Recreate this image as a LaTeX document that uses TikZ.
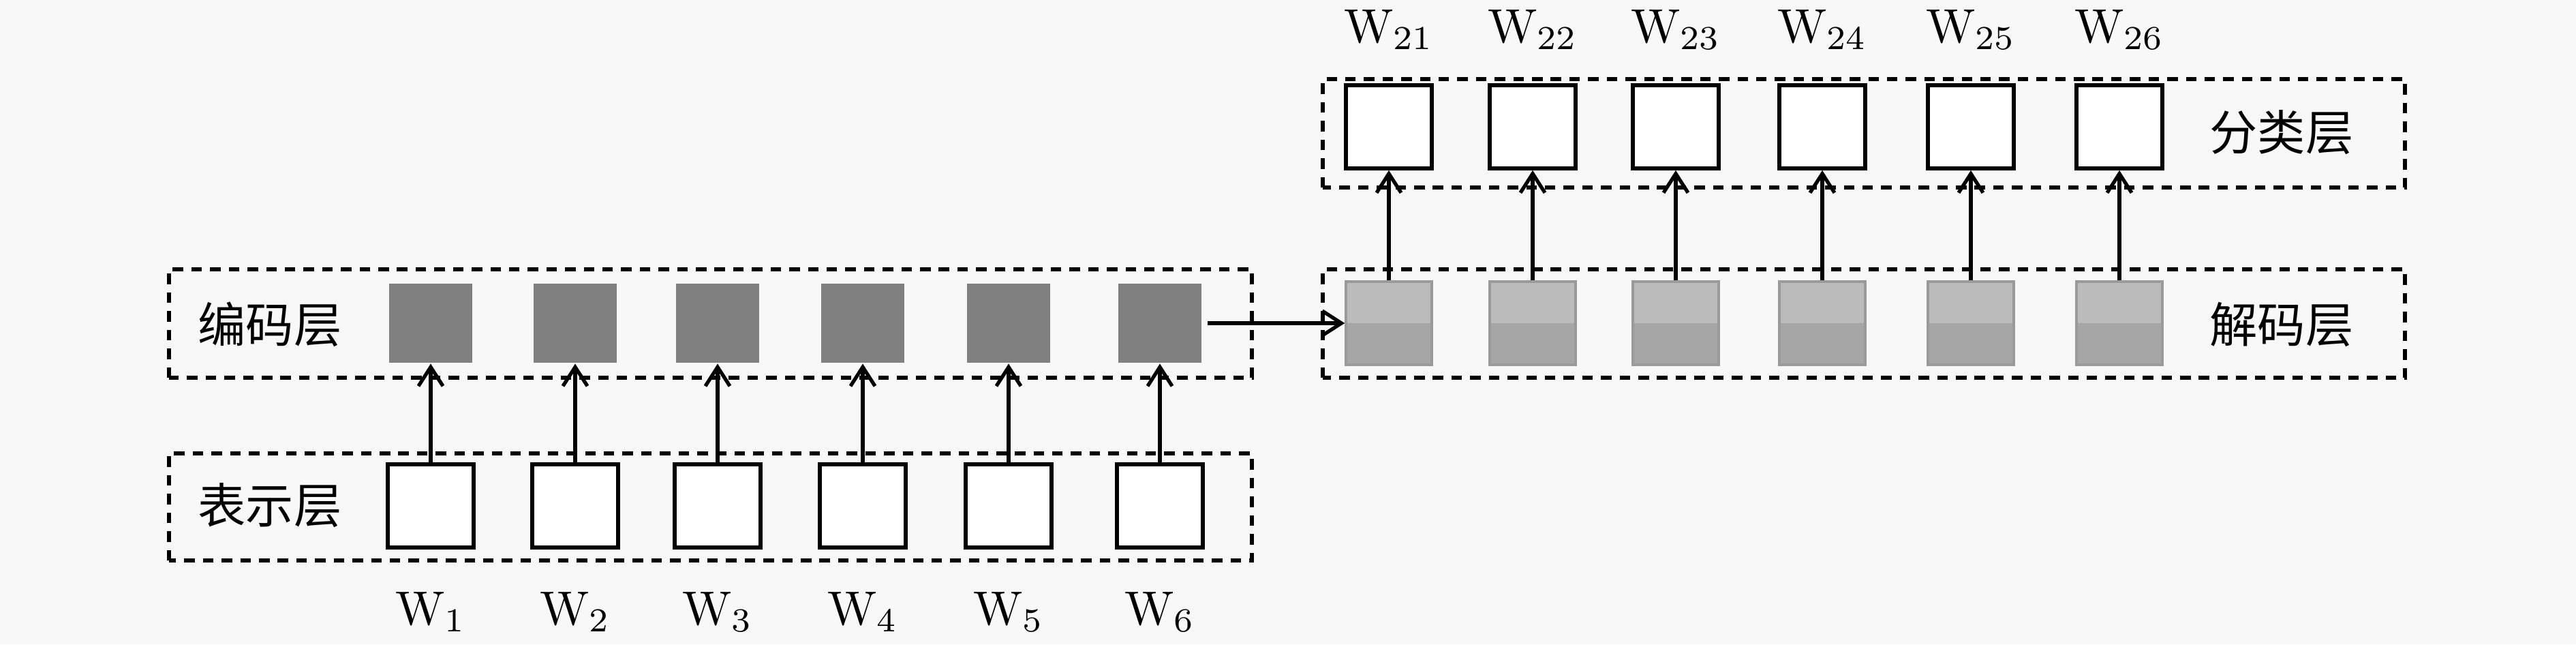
\documentclass[tikz,border=0pt]{standalone}
\usepackage{fontspec}
\newfontfamily\cjk{Noto Sans CJK SC}
\definecolor{bgpaper}{HTML}{F8F8F8}
\definecolor{encgray}{HTML}{808080}
\definecolor{declight}{HTML}{BBBBBB}
\definecolor{decdark}{HTML}{A6A6A6}
\definecolor{decedge}{HTML}{9A9A9A}
\usetikzlibrary{arrows.meta}

\begin{document}
\begin{tikzpicture}[
  every node/.style={inner sep=0pt},
  arrow/.style={-{Straight Barb[length=1.4mm,width=1.8mm]}, line width=0.75pt},
  layerbox/.style={draw, line width=0.8pt, dash pattern=on 2.2pt off 1.7pt},
  cellsize/.style={minimum width=0.63cm, minimum height=0.61cm},
  repbox/.style={cellsize, draw, fill=white, line width=0.8pt},
  clsbox/.style={repbox},
  encbox/.style={cellsize, minimum width=0.61cm, minimum height=0.58cm, fill=encgray},
  decbox/.style={cellsize, draw=decedge, fill=decdark, line width=0.5pt,
    path picture={\fill[declight] (path picture bounding box.north west)
      rectangle (path picture bounding box.east);}},
  layername/.style={font=\cjk\fontsize{10}{12}\selectfont},
  wordlbl/.style={font=\fontsize{10}{12}\selectfont, anchor=base},
]
  % Canvas
  \fill[bgpaper] (0,0) rectangle (18.9,4.725);
  \useasboundingbox (0,0) rectangle (18.9,4.725);

  % Layer frames
  \draw[layerbox] (1.24,0.615) rectangle (9.185,1.40);
  \draw[layerbox] (1.24,1.955) rectangle (9.185,2.75);
  \draw[layerbox] (9.705,1.955) rectangle (17.645,2.75);
  \draw[layerbox] (9.705,3.35) rectangle (17.645,4.145);

  % Layer names
  \node[layername] (replbl) at (1.98,1.02) {表示层};
  \node[layername] (enclbl) at (1.98,2.345) {编码层};
  \node[layername] (declbl) at (16.74,2.345) {解码层};
  \node[layername] (clslbl) at (16.74,3.755) {分类层};

  % Encoder side
  \foreach \x [count=\i] in {3.16,4.22,5.265,6.33,7.40,8.51}{
    \node[repbox] (rep\i) at (\x,1.015) {};
    \node[encbox] (enc\i) at (\x,2.355) {};
    \node[wordlbl] (w\i) at (\x,0.145) {W$_{\i}$};
    \draw[arrow] (rep\i) -- (enc\i);
  }

  % Decoder side
  \foreach \x [count=\i] in {10.19,11.245,12.295,13.37,14.46,15.55}{
    \node[decbox] (dec\i) at (\x,2.355) {};
    \node[clsbox] (cls\i) at (\x,3.795) {};
    \node[wordlbl] (w2\i) at (\x,4.415) {W$_{2\i}$};
    \draw[arrow] (dec\i) -- (cls\i);
  }

  % Encoder to decoder
  \draw[arrow] ([xshift=0.04cm]enc6.east) -- (dec1.west);
\end{tikzpicture}
\end{document}
